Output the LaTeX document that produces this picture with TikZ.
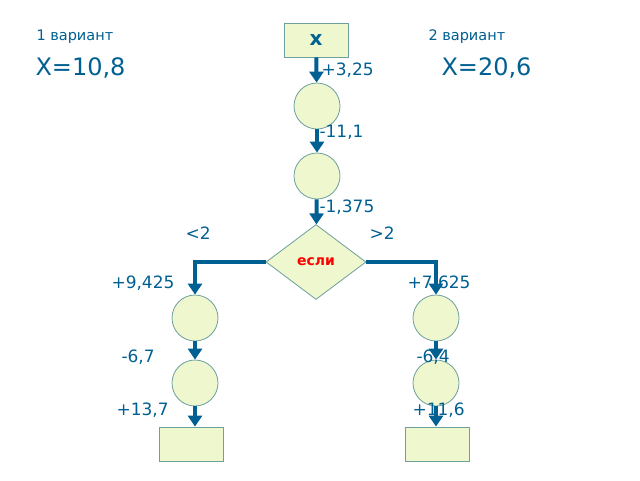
\documentclass[tikz,border=0pt]{standalone}
\usepackage{fontspec}
\setmainfont{DejaVu Sans}
\usetikzlibrary{shapes.geometric,arrows.meta}
\definecolor{blu}{RGB}{0,96,146}
\definecolor{lgr}{RGB}{238,247,205}
\definecolor{edg}{RGB}{110,160,160}
\begin{document}
\begin{tikzpicture}[x=1pt,y=-1pt,
  blk/.style={draw=edg,fill=lgr,line width=0.8pt},
  arr/.style={blu,line width=4pt,-{Triangle[length=11pt,width=14pt]}},
  lab/.style={blu,font=\fontsize{17}{17}\selectfont,anchor=west}]
\useasboundingbox[fill=white] (0,0) rectangle (640,480);
\node[blk,minimum width=64pt,minimum height=34pt] (x) at (316,40) {\fontsize{20}{20}\selectfont\bfseries\color{blu}x};
\node[blk,circle,minimum size=46pt] (c1) at (317,106) {};
\node[blk,circle,minimum size=46pt] (c2) at (317,176) {};
\node[blk,diamond,minimum width=100pt,minimum height=75pt,inner sep=0pt] (if) at (316,262) {\fontsize{14}{14}\selectfont\bfseries\color{red}если};
\node[blk,circle,minimum size=46pt] (l1) at (195,318) {};
\node[blk,circle,minimum size=46pt] (l2) at (195,383) {};
\node[blk,circle,minimum size=46pt] (r1) at (436,318) {};
\node[blk,circle,minimum size=46pt] (r2) at (436,383) {};
\node[blk,minimum width=64pt,minimum height=34pt] (lb) at (191,444) {};
\node[blk,minimum width=64pt,minimum height=34pt] (rb) at (437,444) {};
\draw[arr] (x) -- (c1);
\draw[arr] (c1) -- (c2);
\draw[arr] (c2) -- (if);
\draw[arr] (if.west) -| (l1);
\draw[arr] (if.east) -| (r1);
\draw[arr] (l1) -- (l2);
\draw[arr] (r1) -- (r2);
\draw[arr] (l2) -- (l2 |- lb.north);
\draw[arr] (r2) -- (r2 |- rb.north);
\node[lab] (t1) at (318,70) {+3,25};
\node[lab] (t2) at (316,132) {-11,1};
\node[lab] (t3) at (316,207) {-1,375};
\node[lab] (t4) at (182,233) {<2};
\node[lab] (t5) at (366,233) {>2};
\node[lab] (t6) at (108,283) {+9,425};
\node[lab] (t7) at (404,283) {+7,625};
\node[lab] (t8) at (118,357) {-6,7};
\node[lab] (t9) at (413,357) {-6,4};
\node[lab] (t10) at (113,410) {+13,7};
\node[lab] (t11) at (409,410) {+11,6};
\node[lab,font=\fontsize{14.5}{14.5}\selectfont] (v1) at (33,37) {1 вариант};
\node[lab,font=\fontsize{14.5}{14.5}\selectfont] (v2) at (425,37) {2 вариант};
\node[lab,font=\fontsize{24}{24}\selectfont] (a1) at (32,68) {X=10,8};
\node[lab,font=\fontsize{24}{24}\selectfont] (a2) at (438,68) {X=20,6};
\end{tikzpicture}
\end{document}
